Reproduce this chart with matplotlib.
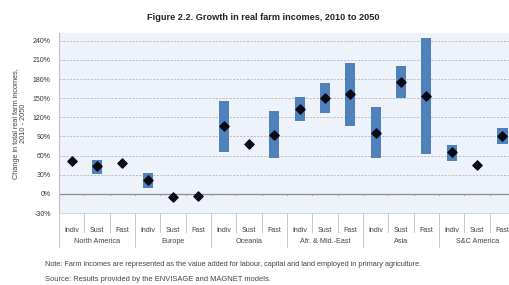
import matplotlib
matplotlib.use('Agg')
import numpy as np
import matplotlib.pyplot as plt

plt.rcParams['font.family'] = ['Liberation Sans', 'DejaVu Sans']

regions = ['North America', 'Europe', 'Oceania', 'Afr. & Mid.-East', 'Asia', 'S&C America']
scenarios = ['Indiv', 'Sust', 'Fast']

# central estimate (diamond) and range (bar) per region/scenario, in %
mid = [52, 43, 49,
       21, -5, -3,
       106, 78, 93,
       133, 150, 156,
       96, 176, 153,
       65, 45, 91]
low = [None, 31, None,
       10, None, None,
       66, None, 56,
       115, 127, 106,
       56, 150, 62,
       52, None, 78]
high = [None, 53, None,
        33, None, None,
        145, None, 130,
        152, 174, 205,
        137, 201, 244,
        77, None, 103]

yticks = [-30, 0, 30, 60, 90, 120, 150, 180, 210, 240]

fig = plt.figure(figsize=(5.09, 2.85), dpi=100)
ax = fig.add_axes([0.116, 0.2526, 0.896, 0.631])
ax.set_facecolor('#eef2fa')

n = len(mid)
x = np.arange(n)

for i in range(n):
    if low[i] is not None:
        ax.bar(x[i], high[i] - low[i], bottom=low[i], width=0.4,
               color='#4f81bd', zorder=3)
ax.scatter(x, mid, marker='D', s=22, color='#0a0a14', zorder=4)

ax.set_xlim(-0.5, n - 0.5)
ax.set_ylim(-30, 252)
ax.set_yticks(yticks)
ax.set_yticklabels([f'{v}%' for v in yticks], fontsize=5.0, color='#333333')
ax.tick_params(axis='y', length=0, pad=6)
ax.set_xticks([])

for v in yticks:
    if v == 0:
        ax.axhline(v, color='#8c8c8c', lw=0.9, zorder=2)
    elif v > -30:
        ax.axhline(v, color='#a8a8a8', lw=0.5, ls=(0, (3, 2)), zorder=1)

# little ticks on the zero line between cells
for b in np.arange(0.5, n - 0.5, 1):
    ax.plot([b, b], [0, -2.5], color='#8c8c8c', lw=0.6, zorder=2)

for s in ['top', 'right']:
    ax.spines[s].set_visible(False)
ax.spines['left'].set_color('#bfbfbf')
ax.spines['left'].set_linewidth(0.8)
ax.spines['bottom'].set_color('#d0d0d0')
ax.spines['bottom'].set_linewidth(0.6)

# category labels and separators below the axis
trans = ax.get_xaxis_transform()
for i in range(n):
    ax.text(x[i], -0.095, scenarios[i % 3], transform=trans, ha='center',
            va='center', fontsize=5.0, color='#444444')
for b in np.arange(-0.5, n, 1):
    depth = -0.19 if (b + 0.5) % 3 == 0 else -0.105
    ax.plot([b, b], [0, depth], transform=trans, color='#bfbfbf', lw=0.6,
            clip_on=False)
for g, name in enumerate(regions):
    ax.text(3 * g + 1, -0.16, name, transform=trans, ha='center',
            va='center', fontsize=5.2, color='#444444')

ax.set_ylabel('Change in total real farm incomes,\n2010 - 2050', fontsize=5.3,
              color='#444444', labelpad=4, linespacing=1.1)

fig.text(0.517, 0.94, 'Figure 2.2. Growth in real farm incomes, 2010 to 2050',
         ha='center', va='center', fontsize=6.6, fontweight='bold', color='#222222')
fig.text(0.088, 0.073, 'Note: Farm incomes are represented as the value added for labour, capital and land employed in primary agriculture.',
         ha='left', va='center', fontsize=5.3, color='#444444')
fig.text(0.088, 0.02, 'Source: Results provided by the ENVISAGE and MAGNET models.',
         ha='left', va='center', fontsize=5.4, color='#444444')

fig.savefig('out.png', dpi=100)
